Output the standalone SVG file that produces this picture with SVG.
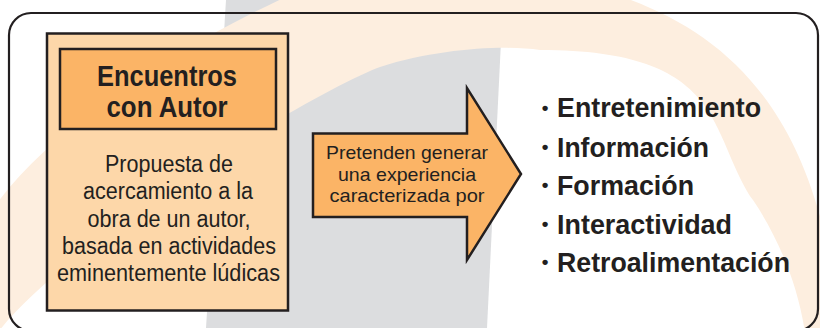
<svg xmlns="http://www.w3.org/2000/svg" width="820" height="328" viewBox="0 0 820 328">
<style>
.frame{fill:none;stroke:#231F20;stroke-width:2.2}
.box{stroke:#231F20;stroke-width:2.5}
.t{font-family:"Liberation Sans",Arial,Helvetica,sans-serif;fill:#231F20}
.title{font-size:29px;font-weight:bold;text-anchor:middle}
.body{font-size:23px;text-anchor:middle}
.arrowtxt{font-size:18.5px;text-anchor:middle}
.item{font-size:28.5px;font-weight:bold}
.bullet{font-size:19px;font-weight:bold;text-anchor:middle}
</style>
<rect x="0" y="0" width="820" height="328" fill="#FFFFFF"/>
<g id="background">
<polygon points="226,0 503,0 487,328 206,328" fill="#DCDDDF"/>
<path d="M -10,213 C 40,140 150,60 290,-5 L 617,-5 C 720,30 800,100 830,260 L 835,260 L 835,345 L 807,345 L 806,340 C 800,290 780,240 753,200 C 708,133 728,50 540,50 C 505,45 440,48 380,67 C 330,85 110,210 8,320 L -10,342 Z" fill="#FDEEDF"/>
</g>
<g id="frame">
<rect class="frame" x="9" y="13" width="809" height="318" rx="22" ry="22"/>
</g>
<g id="node-encuentros">
<rect class="box" x="47" y="33.5" width="241" height="277" fill="#FDD7A9"/>
<rect class="box" x="60" y="49" width="216" height="80" fill="#FBB466"/>
<text class="t title" x="167" y="86" textLength="140" lengthAdjust="spacingAndGlyphs">Encuentros</text>
<text class="t title" x="167" y="117" textLength="121" lengthAdjust="spacingAndGlyphs">con Autor</text>
<text class="t body" x="169" y="172" textLength="128" lengthAdjust="spacingAndGlyphs">Propuesta de</text>
<text class="t body" x="168" y="199" textLength="170" lengthAdjust="spacingAndGlyphs">acercamiento a la</text>
<text class="t body" x="169" y="227" textLength="163" lengthAdjust="spacingAndGlyphs">obra de un autor,</text>
<text class="t body" x="169" y="254" textLength="214" lengthAdjust="spacingAndGlyphs">basada en actividades</text>
<text class="t body" x="168.5" y="281" textLength="223" lengthAdjust="spacingAndGlyphs">eminentemente lúdicas</text>
</g>
<g id="connectors">
<g id="arrow">
<path class="box" d="M 313,133.5 L 467,133.5 L 467,88 L 521,174 L 467,260 L 467,217 L 313,217 Z" fill="#FBB466" stroke-width="2.8" stroke-linejoin="miter"/>
<text class="t arrowtxt" x="407" y="159" textLength="162" lengthAdjust="spacingAndGlyphs">Pretenden generar</text>
<text class="t arrowtxt" x="407" y="181" textLength="138" lengthAdjust="spacingAndGlyphs">una experiencia</text>
<text class="t arrowtxt" x="407" y="202" textLength="155" lengthAdjust="spacingAndGlyphs">caracterizada por</text>
</g>
</g>
<g id="node-list">
<text class="t bullet" x="545" y="113.5">•</text>
<text class="t item" x="557" y="117" textLength="204" lengthAdjust="spacingAndGlyphs">Entretenimiento</text>
<text class="t bullet" x="545" y="152.5">•</text>
<text class="t item" x="557" y="157" textLength="152" lengthAdjust="spacingAndGlyphs">Información</text>
<text class="t bullet" x="545" y="191">•</text>
<text class="t item" x="557" y="195" textLength="137" lengthAdjust="spacingAndGlyphs">Formación</text>
<text class="t bullet" x="545" y="229.5">•</text>
<text class="t item" x="557" y="233.5" textLength="175" lengthAdjust="spacingAndGlyphs">Interactividad</text>
<text class="t bullet" x="545" y="268">•</text>
<text class="t item" x="557" y="272" textLength="233" lengthAdjust="spacingAndGlyphs">Retroalimentación</text>
</g>
</svg>
